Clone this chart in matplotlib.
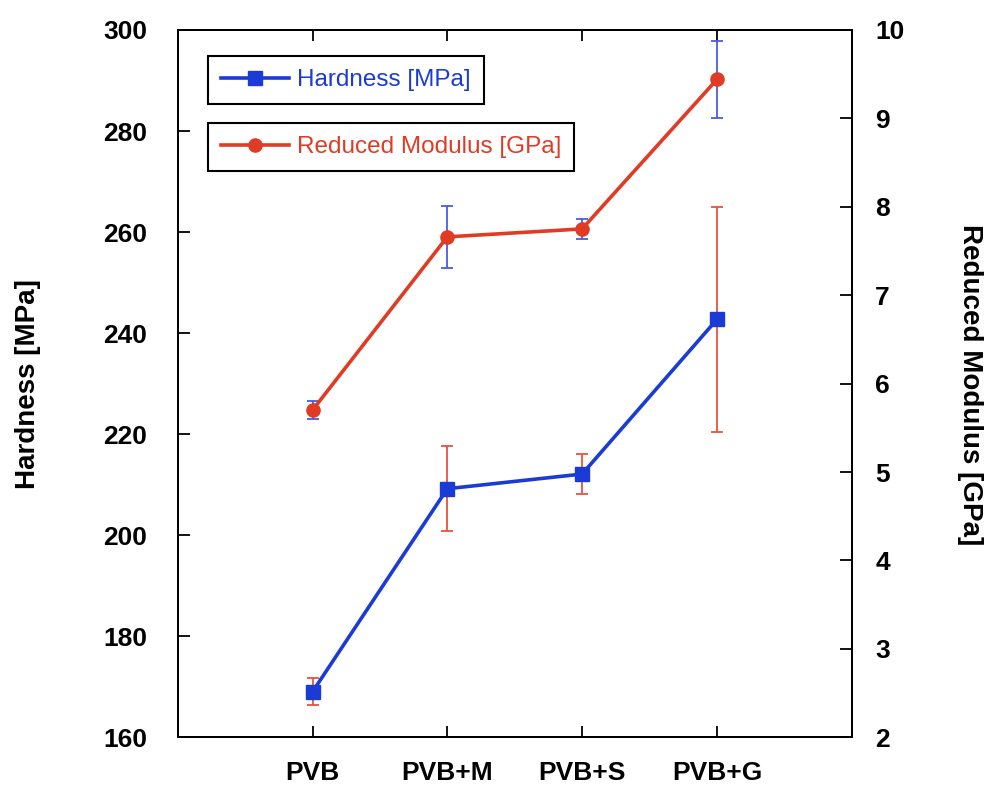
import matplotlib
matplotlib.use('Agg')
import matplotlib.pyplot as plt
from matplotlib.lines import Line2D

plt.rcParams['font.family'] = ['Liberation Sans', 'DejaVu Sans']

# data
categories = ['PVB', 'PVB+M', 'PVB+S', 'PVB+G']
hardness = [169.0, 209.2, 212.1, 242.7]
hardness_err = [2.7, 8.4, 4.0, 22.3]
modulus = [5.70, 7.66, 7.75, 9.44]
modulus_err = [0.10, 0.35, 0.11, 0.44]

blue = '#1a3bd6'
blue_err = '#4a5ce4'
red = '#e03b24'
red_err = '#e8533e'

x = list(range(1, len(categories) + 1))

fig, ax = plt.subplots(figsize=(9.9, 7.85), dpi=100)
fig.subplots_adjust(left=0.1795, right=0.8603, bottom=0.0608, top=0.9618)
ax2 = ax.twinx()

# hardness on left axis (its error bars are red in the original)
ax.errorbar(x, hardness, yerr=hardness_err, color=blue, lw=2.6, marker='s', ms=9.5,
            ecolor=red_err, elinewidth=1.3, capsize=4.5, capthick=1.3)
# modulus on right axis (blue error bars)
ax2.errorbar(x, modulus, yerr=modulus_err, color=red, lw=2.6, marker='o', ms=9.5,
             ecolor=blue_err, elinewidth=1.3, capsize=4.5, capthick=1.3)

ax.set_xlim(0, 5)
ax.set_ylim(160, 300)
ax2.set_ylim(2, 10)
ax.set_yticks(range(160, 301, 20))
ax2.set_yticks(range(2, 11))
ax.set_xticks(x)
ax.set_xticklabels(categories, fontsize=19, fontweight='bold')

for a in (ax, ax2):
    for s in a.spines.values():
        s.set_linewidth(1.4)
ax.tick_params(axis='x', direction='in', length=8, width=1.3, top=True, pad=17)
ax.tick_params(axis='y', direction='in', length=8.5, width=1.3, labelsize=19, pad=22)
ax2.tick_params(axis='y', direction='in', length=9, width=1.3, labelsize=19, pad=17)
for lab in ax.get_yticklabels() + ax2.get_yticklabels():
    lab.set_fontweight('bold')

ax.set_ylabel('Hardness [MPa]', fontsize=20, fontweight='bold', va='center')
ax.yaxis.set_label_coords(-0.222, 0.5)
ax2.set_ylabel('Reduced Modulus [GPa]', fontsize=20, fontweight='bold',
               rotation=270, va='center')
ax2.yaxis.set_label_coords(1.176, 0.498)

h1 = Line2D([], [], color=blue, lw=2.6, marker='s', ms=9.5)
h2 = Line2D([], [], color=red, lw=2.6, marker='o', ms=9.5)
leg_kw = dict(loc='upper left', borderaxespad=0, fancybox=False, edgecolor='black',
              fontsize=17.5, handlelength=2.8, handletextpad=0.3, borderpad=0.55,
              framealpha=1)
leg1 = ax2.legend([h1], ['Hardness [MPa]'], bbox_to_anchor=(0.045, 0.9637),
                  labelcolor=blue, **leg_kw)
leg1.get_frame().set_linewidth(1.5)
ax2.add_artist(leg1)
leg2 = ax2.legend([h2], ['Reduced Modulus [GPa]'], bbox_to_anchor=(0.045, 0.869),
                  labelcolor=red, **leg_kw)
leg2.get_frame().set_linewidth(1.5)

fig.savefig('out.png', dpi=100)
